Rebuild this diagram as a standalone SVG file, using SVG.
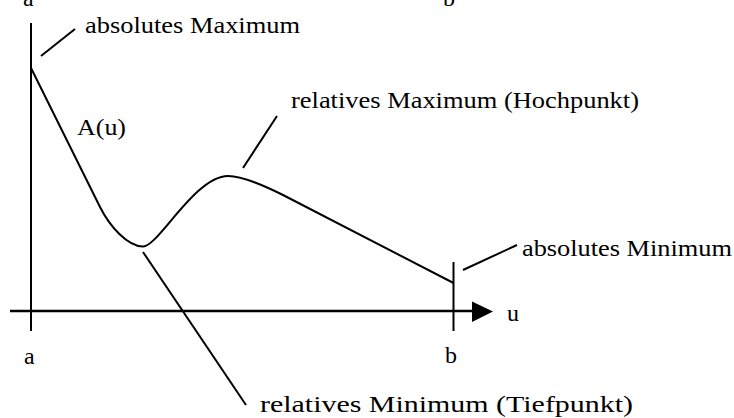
<svg xmlns="http://www.w3.org/2000/svg" width="734" height="418" viewBox="0 0 734 418">
<style>
text{font-family:"Liberation Serif","Times New Roman",serif;font-size:24px;fill:#000}
.ln{stroke:#000;stroke-width:2;fill:none}
.ax{stroke:#000;stroke-width:2.5;fill:none}
.cv{stroke:#000;stroke-width:2;fill:none;stroke-linejoin:round}
</style>
<rect width="734" height="418" fill="#fff"/>
<g id="axes">
<line class="ln" x1="31" y1="23" x2="31" y2="331"/>
<line class="ln" x1="453.5" y1="262" x2="453.5" y2="331"/>
<line class="ax" x1="10" y1="311" x2="473" y2="311"/>
<polygon points="472,301.5 493,311.5 472,322" fill="#000"/>
</g>
<g id="curve">
<path class="cv" d="M31,68 L100,207 C110,227 128,246.5 143,246.5 C158,247 195,176 228,176 C240,176 255,181 283,195 L453.5,283"/>
</g>
<g id="connectors">
<line class="ln" x1="41" y1="56" x2="75" y2="29"/>
<line class="ln" x1="243" y1="168" x2="277" y2="116"/>
<line class="ln" x1="463" y1="270" x2="517" y2="245"/>
<line class="ln" x1="143" y1="252" x2="246" y2="405"/>
</g>
<g id="labels">
<text x="23" y="6">a</text>
<text x="443" y="6">b</text>
<text x="24" y="364">a</text>
<text x="445" y="363">b</text>
<text x="507" y="321">u</text>
<text x="77" y="135" textLength="49" lengthAdjust="spacingAndGlyphs">A(u)</text>
<text x="85" y="33" textLength="215" lengthAdjust="spacingAndGlyphs">absolutes Maximum</text>
<text x="291" y="108" textLength="348" lengthAdjust="spacingAndGlyphs">relatives Maximum (Hochpunkt)</text>
<text x="522" y="256" textLength="210" lengthAdjust="spacingAndGlyphs">absolutes Minimum</text>
<text x="260" y="412" textLength="373" lengthAdjust="spacingAndGlyphs">relatives Minimum (Tiefpunkt)</text>
</g>
</svg>
